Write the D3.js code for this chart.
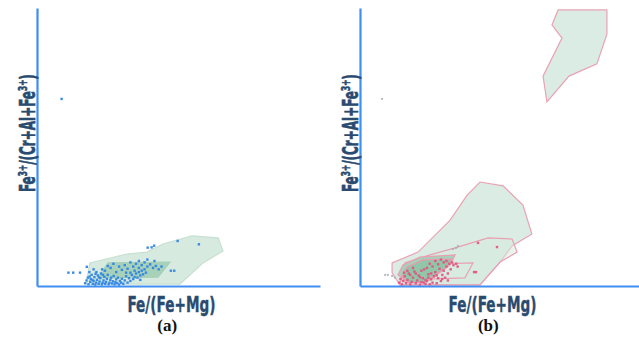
<!DOCTYPE html>
<html>
<head>
<meta charset="utf-8">
<script src="https://cdn.jsdelivr.net/npm/d3@7"></script>
<style>
  body { margin: 0; background: #fff; }
  svg { display: block; }
  .lbl { font-family: "Liberation Sans Narrow", "DejaVu Sans Condensed", "Roboto Condensed", sans-serif; font-weight: bold; fill: #2a4b70; stroke: #2a4b70; }
  .tag { font-family: "Liberation Serif", "Times New Roman", serif; font-weight: bold; fill: #111; }
</style>
</head>
<body>
<svg width="639" height="339"></svg>
<script>
// axis titles and panel tags
const xTitle = "Fe/(Fe+Mg)";
const yTitleParts = [["Fe", 0], ["3+", 1], ["/(Cr+Al+Fe", 0], ["3+", 1], [")", 0]];
const panelTags = ["(a)", "(b)"];

// panel (a) fields, [Fe/(Fe+Mg), Fe3+/(Cr+Al+Fe3+)]
const fieldA_outer = [[0.173,0.007],[0.187,0.083],[0.318,0.115],[0.389,0.122],[0.445,0.151],[0.548,0.180],[0.640,0.173],[0.657,0.126],[0.587,0.083],[0.505,0.007]];
const fieldA_inner = [[0.216,0.029],[0.251,0.083],[0.470,0.086],[0.428,0.032]];

// panel (b) fields
const fieldB_top = [[0.710,0.993],[0.885,0.993],[0.885,0.906],[0.849,0.799],[0.749,0.755],[0.670,0.662],[0.656,0.755],[0.724,0.892],[0.688,0.939]];
const fieldB_big = [[0.430,0.374],[0.513,0.360],[0.584,0.291],[0.616,0.187],[0.545,0.144],[0.502,0.086],[0.430,0.004],[0.143,0.004],[0.115,0.047],[0.115,0.083],[0.208,0.122],[0.323,0.237],[0.384,0.327]];
const fieldB_long = [[0.161,0.083],[0.251,0.112],[0.341,0.137],[0.459,0.173],[0.545,0.169],[0.563,0.122],[0.502,0.086],[0.430,0.004],[0.143,0.004]];
const fieldB_rhomb = [[0.251,0.079],[0.405,0.083],[0.376,0.029],[0.233,0.025]];
const fieldB_dark1 = [[0.136,0.040],[0.154,0.076],[0.215,0.104],[0.341,0.112],[0.323,0.076],[0.251,0.022],[0.172,0.011]];
const fieldB_dark2 = [[0.151,0.036],[0.168,0.068],[0.226,0.094],[0.330,0.097],[0.305,0.065],[0.233,0.014],[0.179,0.011]];

// panel (a) analyses
const pointsA = [
  [0.087,0.673],[0.111,0.048],[0.128,0.048],[0.152,0.048],[0.176,0.069],
  [0.391,0.138],[0.405,0.139],[0.414,0.145],[0.497,0.162],[0.572,0.150],[0.473,0.055],[0.485,0.055],
  [0.170,0.010],[0.175,0.020],[0.180,0.030],[0.182,0.006],[0.188,0.015],[0.190,0.025],[0.193,0.040],[0.197,0.008],
  [0.200,0.018],[0.203,0.032],[0.206,0.005],[0.209,0.012],[0.212,0.022],[0.215,0.038],[0.218,0.008],[0.221,0.016],
  [0.224,0.028],[0.226,0.045],[0.229,0.006],[0.232,0.012],[0.235,0.020],[0.238,0.033],[0.241,0.008],[0.244,0.015],
  [0.247,0.026],[0.250,0.040],[0.253,0.006],[0.256,0.012],[0.259,0.022],[0.262,0.030],[0.265,0.009],[0.268,0.017],
  [0.271,0.036],[0.274,0.006],[0.277,0.014],[0.280,0.024],[0.283,0.010],[0.286,0.030],[0.290,0.005],[0.293,0.018],
  [0.297,0.012],[0.300,0.026],[0.305,0.008],[0.310,0.020],[0.315,0.035],[0.320,0.012],[0.325,0.028],[0.330,0.018],
  [0.335,0.040],[0.340,0.025],[0.345,0.032],[0.350,0.045],[0.355,0.030],[0.360,0.050],[0.365,0.038],[0.370,0.055],
  [0.375,0.042],[0.380,0.060],[0.385,0.048],[0.186,0.034],[0.196,0.022],[0.207,0.044],[0.219,0.031],[0.233,0.040],
  [0.240,0.055],[0.260,0.065],[0.280,0.050],[0.290,0.070],[0.300,0.058],[0.310,0.075],[0.320,0.062],[0.330,0.048],
  [0.340,0.070],[0.350,0.080],[0.360,0.065],[0.370,0.075],[0.380,0.085],[0.390,0.070],[0.400,0.078],[0.410,0.065],
  [0.420,0.072],[0.430,0.060],[0.440,0.070],[0.415,0.090],[0.390,0.095],[0.360,0.090],[0.330,0.085],[0.270,0.080],
  [0.250,0.072],[0.230,0.060],[0.210,0.050],[0.200,0.060],[0.185,0.050],[0.345,0.055],[0.365,0.022],[0.315,0.048]
];

// panel (b) analyses
const pointsB = [
  [0.423,0.155],[0.491,0.140],[0.409,0.050],[0.416,0.050],
  [0.140,0.012],[0.145,0.025],[0.150,0.006],[0.155,0.018],[0.160,0.035],[0.165,0.010],[0.170,0.022],[0.175,0.045],
  [0.180,0.006],[0.185,0.015],[0.190,0.030],[0.195,0.052],[0.200,0.010],[0.205,0.020],[0.210,0.038],[0.215,0.005],
  [0.220,0.014],[0.225,0.028],[0.230,0.060],[0.235,0.008],[0.240,0.018],[0.245,0.042],[0.250,0.006],[0.255,0.024],
  [0.260,0.012],[0.265,0.035],[0.270,0.050],[0.275,0.010],[0.280,0.028],[0.285,0.062],[0.290,0.018],[0.295,0.040],
  [0.300,0.055],[0.305,0.030],[0.310,0.070],[0.315,0.045],[0.320,0.080],[0.325,0.060],[0.330,0.085],[0.335,0.075],
  [0.300,0.085],[0.280,0.078],[0.260,0.070],[0.240,0.065],[0.220,0.055],[0.200,0.045],[0.180,0.040],[0.170,0.055],
  [0.158,0.048],[0.190,0.065],[0.250,0.080],[0.270,0.090],[0.290,0.095],[0.310,0.090],[0.345,0.080],[0.350,0.070],
  [0.215,0.032],[0.235,0.022],[0.255,0.045],[0.275,0.038],[0.295,0.025],[0.315,0.020],[0.245,0.030],[0.228,0.012]
];
const greyB = [[0.079,0.673],[0.333,0.133],[0.344,0.137],[0.351,0.144],[0.090,0.040],[0.100,0.040],[0.115,0.036],[0.125,0.030]];

const svg = d3.select("svg");
const y = d3.scaleLinear().domain([0, 1]).range([286, 8]);
const xA = d3.scaleLinear().domain([0, 1]).range([37, 320]);
const xB = d3.scaleLinear().domain([0, 1]).range([360, 639]);

function drawPanel(x, fields, sets, tagIdx) {
  const g = svg.append("g");
  const line = d3.line().x(d => x(d[0])).y(d => y(d[1])).curve(d3.curveLinearClosed);

  g.selectAll("path.field")
    .data(fields)
    .join("path")
    .attr("class", "field")
    .attr("d", f => line(f.pts))
    .attr("fill", f => f.fill)
    .attr("fill-opacity", f => f.op)
    .attr("stroke", f => f.stroke)
    .attr("stroke-width", 1.2);

  sets.forEach(s => {
    g.append("g").selectAll("rect")
      .data(s.pts)
      .join("rect")
      .attr("x", d => x(d[0]) - s.size / 2)
      .attr("y", d => y(d[1]) - s.size / 2)
      .attr("width", s.size)
      .attr("height", s.size)
      .attr("fill", s.color)
      .attr("fill-opacity", s.op);
  });

  // axes, no ticks
  g.append("g")
    .attr("transform", `translate(0,${y(0)})`)
    .call(d3.axisBottom(x).ticks(0).tickSizeOuter(0))
    .select(".domain").attr("stroke", "#3f8ef2").attr("stroke-width", 2.2);
  g.append("g")
    .attr("transform", `translate(${x(0)},0)`)
    .call(d3.axisLeft(y).ticks(0).tickSizeOuter(0))
    .select(".domain").attr("stroke", "#3f8ef2").attr("stroke-width", 2.2);

  g.append("text").attr("class", "lbl")
    .attr("x", x(0.475)).attr("y", 312)
    .attr("text-anchor", "middle")
    .attr("font-size", 22)
    .attr("stroke-width", 0.4)
    .attr("textLength", 88).attr("lengthAdjust", "spacingAndGlyphs")
    .text(xTitle);

  // rotated y title, squeezed to the reference length
  const ty = y(0.55), tx = x(0) - 10;
  const yl = g.append("text").attr("class", "lbl")
    .attr("text-anchor", "middle")
    .attr("font-size", 21)
    .attr("stroke-width", 0.6);
  yTitleParts.forEach(p => {
    if (p[1]) {
      yl.append("tspan").attr("font-size", 13).attr("dy", -8).text(p[0]);
    } else {
      yl.append("tspan").attr("dy", yl.selectAll("tspan").size() ? 8 : 0).text(p[0]);
    }
  });
  const w = yl.node().getComputedTextLength();
  const k = 118 / w;
  yl.attr("transform", `translate(${tx},${ty}) rotate(-90) scale(${k},1)`);

  g.append("text").attr("class", "tag")
    .attr("x", x(0.46)).attr("y", 331)
    .attr("text-anchor", "middle")
    .attr("font-size", 17)
    .text(panelTags[tagIdx]);
}

drawPanel(xA,
  [
    { pts: fieldA_outer, fill: "#d3e8dc", op: 0.9, stroke: "#c7e0d1" },
    { pts: fieldA_inner, fill: "#9ccbb0", op: 0.8, stroke: "#a6d0b8" }
  ],
  [{ pts: pointsA, color: "#2f86e4", op: 0.95, size: 2.4 }],
  0);

drawPanel(xB,
  [
    { pts: fieldB_top, fill: "#d6eae0", op: 0.9, stroke: "#eaa2b4" },
    { pts: fieldB_big, fill: "#d6eae0", op: 0.9, stroke: "#eaa2b4" },
    { pts: fieldB_long, fill: "#d6eae0", op: 0.5, stroke: "#e9a0b2" },
    { pts: fieldB_rhomb, fill: "#d6eae0", op: 0.4, stroke: "#e9a0b2" },
    { pts: fieldB_dark1, fill: "#a3cfb5", op: 0.95, stroke: "#e9a0b2" },
    { pts: fieldB_dark2, fill: "#8fc4a6", op: 0.9, stroke: "#e99ab0" }
  ],
  [
    { pts: greyB, color: "#a9a9b4", op: 0.8, size: 2 },
    { pts: pointsB, color: "#e2507f", op: 0.9, size: 2.4 }
  ],
  1);
</script>
</body>
</html>
